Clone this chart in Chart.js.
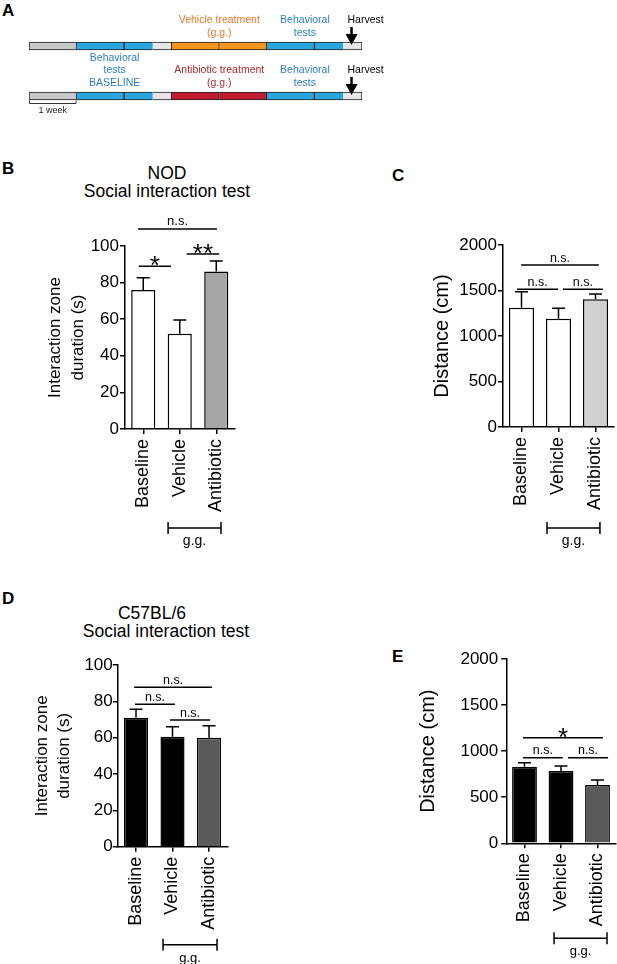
<!DOCTYPE html>
<html>
<head>
<meta charset="utf-8">
<script src="https://cdn.jsdelivr.net/npm/chart.js@4.4.1/dist/chart.umd.min.js"></script>
<style>
  body { margin: 0; background: #fff; }
  #fig { position: relative; width: 617px; height: 964px; overflow: hidden; font-family: 'Liberation Sans', Arial, Helvetica, sans-serif; color: #000; }
  #fig canvas, .lbl, .ttl { position: absolute; }
  .lbl { font-weight: bold; font-size: 17px; line-height: 17px; }
  .ttl { font-size: 17.5px; line-height: 17.5px; white-space: nowrap; transform: translateX(-50%); }
</style>
</head>
<body>
<div id="fig">
  <div class="lbl" style="left:2px;top:2px">A</div>
  <div class="lbl" style="left:2px;top:160px">B</div>
  <div class="lbl" style="left:392px;top:167px">C</div>
  <div class="lbl" style="left:2px;top:590px">D</div>
  <div class="lbl" style="left:392px;top:648px">E</div>

  <div class="ttl" style="left:167px;top:165px">NOD</div>
  <div class="ttl" style="left:167px;top:183px">Social interaction test</div>
  <div class="ttl" style="left:152px;top:605px">C57BL/6</div>
  <div class="ttl" style="left:166px;top:623px">Social interaction test</div>

  <canvas id="chartA" width="400" height="130" style="left:0;top:0"></canvas>
  <canvas id="chartB" width="250" height="360" style="left:0;top:200px"></canvas>
  <canvas id="chartC" width="237" height="360" style="left:380px;top:200px"></canvas>
  <canvas id="chartD" width="250" height="324" style="left:0;top:640px"></canvas>
  <canvas id="chartE" width="237" height="344" style="left:380px;top:620px"></canvas>
</div>

<script>
const FONT = "'Liberation Sans', Arial, Helvetica, sans-serif";
Chart.defaults.font.family = FONT;
Chart.defaults.color = '#000';

// --- A: study timeline (weeks) ---
const timelineRows = ['Vehicle', 'Antibiotic'];
const phaseWeeks = [1, 1, 0.6, 0.4, 1, 1, 1, 0.6, 0.4];
const harvestWeek = 6.78;
const phaseNotes = [
    { row: 0, week: 4,   lines: ['Vehicle treatment', '(g.g.)'] },
    { row: 0, week: 5.8, lines: ['Behavioral', 'tests'] },
    { row: 1, week: 1.8, lines: ['Behavioral', 'tests', 'BASELINE'] },
    { row: 1, week: 4,   lines: ['Antibiotic treatment', '(g.g.)'] },
    { row: 1, week: 5.8, lines: ['Behavioral', 'tests'] }
];

// --- B-E: bar panels ---
const groups = ['Baseline', 'Vehicle', 'Antibiotic'];
const socialTicks = [0, 20, 40, 60, 80, 100];
const distanceTicks = [0, 500, 1000, 1500, 2000];

const nodSocial = [76, 52, 86];
const nodSocialErr = [6.7, 7.6, 5.8];
const nodDistance = [1311, 1190, 1403];
const nodDistanceErr = [175, 114, 59];
const b6Social = [71, 60.5, 60];
const b6SocialErr = [4.6, 5.5, 6.6];
const b6Distance = [831, 785, 633];
const b6DistanceErr = [44, 54, 54];

// significance bars: [from, to] in category units, height in data units
const nodSocialSig = [
    { from: -0.14, to: 2.02, at: 109.3, text: 'n.s.' },
    { from: -0.12, to: 0.76, at: 89, text: '*' },
    { from: 1.19, to: 2.08, at: 95.6, text: '**' }
];
const nodDistanceSig = [
    { from: -0.01, to: 2.09, at: 1780, text: 'n.s.' },
    { from: -0.12, to: 0.99, at: 1513, text: 'n.s.' },
    { from: 1.12, to: 2.2, at: 1513, text: 'n.s.' }
];
const b6SocialSig = [
    { from: -0.05, to: 2.08, at: 87.7, text: 'n.s.' },
    { from: -0.03, to: 1.07, at: 78.4, text: 'n.s.' },
    { from: 0.93, to: 2.03, at: 69.7, text: 'n.s.' }
];
const b6DistanceSig = [
    { from: -0.04, to: 2.15, at: 1146, text: '*' },
    { from: -0.04, to: 1.05, at: 929, text: 'n.s.' },
    { from: 1.19, to: 2.29, at: 929, text: 'n.s.' }
];

// ---------- A ----------
const BLUE = '#29a6de', GREY = '#c8c8c8', LIGHT = '#e6e6e6';
const treatFill = ['#f7941d', '#be1e2d'];
const phaseFill = [GREY, BLUE, BLUE, LIGHT, treatFill, treatFill, BLUE, BLUE, LIGHT];
const noteColors = { 'Vehicle treatment': '#e8772e', 'Antibiotic treatment': '#b3282d' };

const timelinePlugin = {
    id: 'timeline',
    afterDatasetsDraw(chart) {
        const { ctx, scales: { x, y } } = chart;
        ctx.save();
        ctx.font = `10.5px ${FONT}`;
        ctx.textBaseline = 'middle';
        phaseNotes.forEach(n => {
            const cx = x.getPixelForValue(n.week);
            const cy = y.getPixelForValue(n.row);
            ctx.fillStyle = noteColors[n.lines[0]] || '#2f7fbf';
            ctx.textAlign = 'center';
            n.lines.forEach((t, k) => {
                ctx.fillText(t, cx, cy - 13 - (n.lines.length - 1 - k) * 12.5);
            });
        });
        // harvest arrows
        timelineRows.forEach((r, i) => {
            const ax = x.getPixelForValue(harvestWeek);
            const cy = y.getPixelForValue(i);
            ctx.fillStyle = '#000';
            ctx.strokeStyle = '#000';
            ctx.lineWidth = 2.5;
            ctx.beginPath();
            ctx.moveTo(ax, cy - 19);
            ctx.lineTo(ax, cy - 9);
            ctx.stroke();
            ctx.beginPath();
            ctx.moveTo(ax - 6, cy - 12);
            ctx.lineTo(ax + 6, cy - 12);
            ctx.lineTo(ax, cy - 1);
            ctx.closePath();
            ctx.fill();
            ctx.textAlign = 'left';
            ctx.fillText('Harvest', ax - 4, cy - 26);
        });
        // one week scale
        const x0 = x.getPixelForValue(0), x1 = x.getPixelForValue(1);
        const by = y.getPixelForValue(1) + 7.5;
        ctx.lineWidth = 1;
        ctx.strokeStyle = '#333';
        ctx.beginPath();
        ctx.moveTo(x0 + 0.5, by - 3);
        ctx.lineTo(x0 + 0.5, by);
        ctx.lineTo(x1 - 0.5, by);
        ctx.lineTo(x1 - 0.5, by - 3);
        ctx.stroke();
        ctx.font = `9px ${FONT}`;
        ctx.fillStyle = '#222';
        ctx.textAlign = 'center';
        ctx.fillText('1 week', (x0 + x1) / 2, by + 7);
        ctx.restore();
    }
};

new Chart(document.getElementById('chartA'), {
    type: 'bar',
    data: {
        labels: timelineRows,
        datasets: phaseWeeks.map((w, i) => ({
            data: timelineRows.map(() => w),
            backgroundColor: phaseFill[i],
            borderColor: '#231f20',
            borderWidth: 1,
            borderSkipped: i === 0 ? false : (i === 2 || i === 7 ? 'end' : 'start'),
            barThickness: 8
        }))
    },
    options: {
        indexAxis: 'y',
        responsive: false,
        animation: false,
        devicePixelRatio: 1,
        layout: { padding: { left: 29, right: 38, top: 21, bottom: 9 } },
        plugins: { legend: { display: false }, tooltip: { enabled: false } },
        scales: {
            x: { display: false, stacked: true, min: 0, max: 7 },
            y: { display: false, stacked: true }
        }
    },
    plugins: [timelinePlugin]
});

// ---------- B-E ----------
const extrasPlugin = {
    id: 'extras',
    afterDatasetsDraw(chart, args, opts) {
        const { ctx, chartArea, scales: { x, y } } = chart;
        const vals = chart.data.datasets[0].data;
        ctx.save();
        ctx.strokeStyle = '#000';
        ctx.fillStyle = '#000';
        ctx.lineWidth = 1.5;

        // error bars (upper only)
        vals.forEach((v, i) => {
            const cx = x.getPixelForValue(i);
            const y0 = y.getPixelForValue(v);
            const y1 = y.getPixelForValue(v + opts.errors[i]);
            ctx.beginPath();
            ctx.moveTo(cx, y0);
            ctx.lineTo(cx, y1);
            ctx.moveTo(cx - 6.5, y1);
            ctx.lineTo(cx + 6.5, y1);
            ctx.stroke();
        });

        // significance bars
        ctx.textAlign = 'center';
        ctx.textBaseline = 'alphabetic';
        opts.sig.forEach(s => {
            const xa = x.getPixelForValue(s.from);
            const xb = x.getPixelForValue(s.to);
            const yy = y.getPixelForValue(s.at);
            ctx.beginPath();
            ctx.moveTo(xa, yy);
            ctx.lineTo(xb, yy);
            ctx.stroke();
            const star = s.text.includes('*');
            ctx.font = star ? `26px ${FONT}` : `${opts.nsSize}px ${FONT}`;
            ctx.fillText(s.text, (xa + xb) / 2, star ? yy + 8 : yy - 3.5);
        });

        // g.g. bracket under Vehicle / Antibiotic
        const g = opts.gg;
        const ga = x.getPixelForValue(g.from);
        const gb = x.getPixelForValue(g.to);
        const gy = chartArea.bottom + g.below;
        ctx.beginPath();
        ctx.moveTo(ga, gy); ctx.lineTo(gb, gy);
        ctx.moveTo(ga, gy - 6); ctx.lineTo(ga, gy + 6);
        ctx.moveTo(gb, gy - 6); ctx.lineTo(gb, gy + 6);
        ctx.stroke();
        ctx.font = `${g.size}px ${FONT}`;
        ctx.fillText('g.g.', (ga + gb) / 2, gy + 17);
        ctx.restore();
    }
};

function barPanel(id, o) {
    return new Chart(document.getElementById(id), {
        type: 'bar',
        data: {
            labels: groups,
            datasets: [{
                data: o.values,
                backgroundColor: o.fills,
                borderColor: '#000',
                borderWidth: 1.5,
                barPercentage: o.barPct,
                categoryPercentage: 1
            }]
        },
        options: {
            responsive: false,
            animation: false,
            devicePixelRatio: 1,
            layout: { padding: o.padding },
            plugins: {
                legend: { display: false },
                tooltip: { enabled: false },
                extras: { errors: o.errors, sig: o.sig, gg: o.gg, nsSize: o.nsSize }
            },
            scales: {
                x: {
                    z: 1,
                    grid: { display: true, drawOnChartArea: false, offset: false, tickLength: 5, color: '#000', lineWidth: 1.5 },
                    border: { color: '#000', width: 1.5 },
                    ticks: { color: '#000', font: { size: 18 }, minRotation: 90, maxRotation: 90, padding: 5, autoSkip: false },
                    afterFit: s => { s.height = 100; s.paddingLeft = 0; s.paddingRight = 0; }
                },
                y: {
                    z: 1,
                    min: o.ticks[0],
                    max: o.ticks[o.ticks.length - 1],
                    ticks: {
                        stepSize: o.ticks[1] - o.ticks[0],
                        color: '#000',
                        font: { size: 17 },
                        padding: o.tickPad,
                        callback: v => String(v)
                    },
                    grid: { display: true, drawOnChartArea: false, tickLength: 5, color: '#000', lineWidth: 1.5 },
                    border: { color: '#000', width: 1.5 },
                    title: {
                        display: true,
                        text: o.yTitle,
                        color: '#000',
                        font: { size: o.titleSize, lineHeight: o.titleLine },
                        padding: { top: o.titlePad, bottom: 0 }
                    },
                    afterFit: s => { s.width = o.yWidth; s.paddingTop = 0; s.paddingBottom = 0; }
                }
            }
        },
        plugins: [extrasPlugin]
    });
}

barPanel('chartB', {
    values: nodSocial, errors: nodSocialErr, sig: nodSocialSig, ticks: socialTicks,
    fills: ['#ffffff', '#ffffff', '#a6a6a6'], barPct: 0.66,
    padding: { left: 0, top: 46, right: 15.5, bottom: 31 },
    yWidth: 125, tickPad: 1,
    yTitle: ['Interaction zone', 'duration (s)'], titleSize: 17, titleLine: '23px', titlePad: 43.5,
    gg: { from: 0.68, to: 2.13, below: 99, size: 14 }, nsSize: 13
});

barPanel('chartC', {
    values: nodDistance, errors: nodDistanceErr, sig: nodDistanceSig, ticks: distanceTicks,
    fills: ['#ffffff', '#ffffff', '#d0d0d0'], barPct: 0.68,
    padding: { left: 0, top: 45, right: 3, bottom: 33 },
    yWidth: 123, tickPad: 1,
    yTitle: 'Distance (cm)', titleSize: 20, titleLine: '24px', titlePad: 50,
    gg: { from: 0.69, to: 2.12, below: 101, size: 14 }, nsSize: 12.5
});

barPanel('chartD', {
    values: b6Social, errors: b6SocialErr, sig: b6SocialSig, ticks: socialTicks,
    fills: ['#000000', '#000000', '#595959'], barPct: 0.66,
    padding: { left: 0, top: 25, right: 22.75, bottom: 17.3 },
    yWidth: 117.75, tickPad: 0,
    yTitle: ['Interaction zone', 'duration (s)'], titleSize: 17, titleLine: '22px', titlePad: 31,
    gg: { from: 0.74, to: 2.22, below: 98, size: 13 }, nsSize: 12.5
});

barPanel('chartE', {
    values: b6Distance, errors: b6DistanceErr, sig: b6DistanceSig, ticks: distanceTicks,
    fills: ['#000000', '#000000', '#595959'], barPct: 0.68,
    padding: { left: 0, top: 39, right: 1.25, bottom: 20.7 },
    yWidth: 126.25, tickPad: 3,
    yTitle: 'Distance (cm)', titleSize: 20, titleLine: '24px', titlePad: 36,
    gg: { from: 0.81, to: 2.26, below: 95, size: 13 }, nsSize: 12.5
});
</script>
</body>
</html>
